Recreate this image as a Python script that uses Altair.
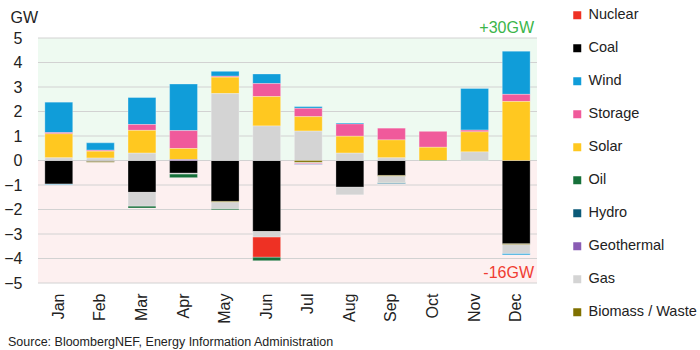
import altair as alt
import pandas as pd

months = ["Jan", "Feb", "Mar", "Apr", "May", "Jun", "Jul", "Aug", "Sep", "Oct", "Nov", "Dec"]

# Capacity additions (+) and retirements (-), GW
nuclear_ret    = [0, 0, 0, 0, 0, -0.83, 0, 0, 0, 0, 0, 0]
coal_ret       = [-0.96, -0.04, -1.30, -0.52, -1.67, -2.90, 0, -1.09, -0.61, 0, 0, -3.40]
wind_add       = [1.24, 0.30, 1.10, 1.90, 0.20, 0.39, 0.07, 0.04, 0, 0, 1.70, 1.76]
wind_ret       = [-0.02, 0, 0, 0, 0, 0, -0.02, 0, -0.02, 0, 0, -0.06]
storage_add    = [0.05, 0.04, 0.24, 0.73, 0.04, 0.53, 0.34, 0.50, 0.48, 0.65, 0.07, 0.29]
storage_ret    = [0, 0, 0, 0, 0, 0, -0.04, 0, 0, 0, 0, 0]
solar_add      = [0.98, 0.28, 0.93, 0.45, 0.67, 1.20, 0.59, 0.69, 0.73, 0.54, 0.82, 2.41]
oil_ret        = [0, 0, -0.08, -0.15, -0.05, -0.14, 0, 0, -0.02, -0.02, -0.02, 0]
hydro_ret      = [0, 0, 0, 0, 0, 0, 0, 0, -0.02, 0, 0, 0]
geothermal_add = [0, 0, 0, 0.04, 0, 0, 0, 0, 0, 0, 0, 0]
gas_add        = [0.11, 0.10, 0.30, 0, 2.73, 1.41, 1.20, 0.30, 0.11, 0, 0.35, 0]
gas_ret        = [0, 0, -0.56, -0.03, -0.26, -0.22, -0.04, -0.31, -0.26, 0, 0, -0.36]
biomass_ret    = [0, -0.03, 0, 0, -0.03, 0, -0.07, 0, -0.03, 0, 0, -0.03]

legend_order = ["Nuclear", "Coal", "Wind", "Storage", "Solar", "Oil", "Hydro",
                "Geothermal", "Gas", "Biomass / Waste"]
colors = ["#EE3124", "#000000", "#109DD9", "#F05A9B", "#FFC820", "#16703A", "#0B5A78",
          "#8A5CB4", "#D4D4D4", "#7F7000"]
stack_order = {"Coal": 0, "Biomass / Waste": 1, "Gas": 2, "Geothermal": 3, "Solar": 4,
               "Storage": 5, "Nuclear": 6, "Oil": 7, "Hydro": 8, "Wind": 9}

source_text = ["Source: BloombergNEF, Energy Information Administration"]

series = [
    ("Nuclear", nuclear_ret), ("Coal", coal_ret), ("Wind", wind_add), ("Wind", wind_ret),
    ("Storage", storage_add), ("Storage", storage_ret), ("Solar", solar_add),
    ("Oil", oil_ret), ("Hydro", hydro_ret), ("Geothermal", geothermal_add),
    ("Gas", gas_add), ("Gas", gas_ret), ("Biomass / Waste", biomass_ret),
]
rows = []
for name, vals in series:
    for m, v in zip(months, vals):
        if v != 0:
            rows.append({"month": m, "tech": name, "gw": v, "ord": stack_order[name]})
df = pd.DataFrame(rows)

bg = pd.DataFrame({"y": [0, -5], "y2": [5, 0], "c": ["#EEFAF1", "#FDF0F0"]})
grid = pd.DataFrame({"v": list(range(-5, 6))})

W, H = 499, 245
yscale = alt.Scale(domain=[-5, 5], nice=False, zero=False)
yaxis = alt.Axis(values=list(range(-5, 6)), grid=False, ticks=False, domain=False,
                 labelFontSize=16, labelPadding=16, labelColor="#222222",
                 labelFont="Liberation Sans", title="GW", titleAngle=0,
                 titleX=-28, titleY=-21, titleAlign="left", titleBaseline="middle",
                 titleFontSize=16, titleFontWeight="normal", titleColor="#222222",
                 titleFont="Liberation Sans")

background = alt.Chart(bg).mark_rect().encode(
    x=alt.value(0), x2=alt.value(W),
    y=alt.Y("y:Q", scale=yscale, axis=yaxis), y2="y2:Q",
    color=alt.Color("c:N", scale=None),
)

gridlines = alt.Chart(grid).mark_rule(color="#D2D2D2", strokeWidth=1).encode(
    x=alt.value(0), x2=alt.value(W),
    y=alt.Y("v:Q", scale=yscale, axis=yaxis),
)

bars = alt.Chart(df).mark_bar(stroke="#ffffff", strokeOpacity=0.35, strokeWidth=0.8).encode(
    x=alt.X("month:N", sort=months, title=None,
            scale=alt.Scale(paddingInner=0.33, paddingOuter=0.165),
            axis=alt.Axis(labelAngle=-90, labelFontSize=16, labelPadding=10, ticks=False,
                          domain=False, labelColor="#222222", labelFont="Liberation Sans")),
    y=alt.Y("gw:Q", scale=yscale, stack="zero", axis=yaxis),
    color=alt.Color("tech:N", scale=alt.Scale(domain=legend_order, range=colors),
                    legend=alt.Legend(title=None, orient="none", legendX=532, legendY=-30,
                                      symbolType="square", symbolSize=64, symbolStrokeWidth=0,
                                      labelFontSize=14.5, labelFont="Liberation Sans",
                                      labelColor="#222222", rowPadding=18.0, padding=0,
                                      labelOffset=4, labelLimit=200)),
    order=alt.Order("ord:Q"),
)

ann = pd.DataFrame({"label": ["+30GW", "-16GW"], "y": [5, -5], "col": ["#3BB54A", "#F03C32"]})
annotations = alt.Chart(ann).mark_text(align="right", baseline="alphabetic", dy=-5, fontSize=16,
                                       font="Liberation Sans").encode(
    x=alt.value(W - 3),
    y=alt.Y("y:Q", scale=yscale, axis=yaxis),
    text="label:N",
    color=alt.Color("col:N", scale=None),
)

source = alt.Chart(pd.DataFrame({"t": source_text})).mark_text(
    align="left", baseline="middle", fontSize=12.5, font="Liberation Sans", color="#222222"
).encode(x=alt.value(-30), y=alt.value(H + 59), text="t:N")

chart = alt.layer(background, gridlines, bars, annotations, source).properties(
    width=W, height=H,
    autosize="none",
    padding={"left": 38, "top": 38, "right": 163, "bottom": 67},
).configure_view(stroke=None)

chart.save("out.html", embed_options={"renderer": "svg", "actions": False})
